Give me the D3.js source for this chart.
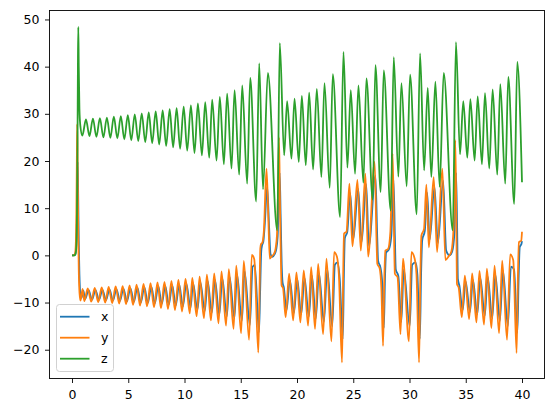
<!DOCTYPE html>
<html>
<head>
<meta charset="utf-8">
<script src="https://cdn.jsdelivr.net/npm/d3@7"></script>
<style>
  body { margin: 0; background: #fff; }
  text { font-family: "DejaVu Sans", sans-serif; }
</style>
</head>
<body>
<script>
// Values: [time, value] at turning points and shoulders
var xPts = [[0,0],[0.2,0.02],[0.3,0.3],[0.36,1.5],[0.41,5],[0.46,13],[0.5,19.8],[0.55,13],[0.6,3],[0.66,-4],[0.73,-7.8],[0.84,-9.0],
  [1.01,-7.5],[1.16,-9.3],[1.47,-7.4],[1.78,-9.4],[2.09,-7.35],[2.40,-9.45],[2.71,-7.3],[3.02,-9.5],[3.33,-7.2],[3.64,-9.6],
  [3.95,-7.15],[4.26,-9.65],[4.57,-7.05],[4.88,-9.75],[5.19,-6.95],[5.50,-9.85],[5.81,-6.85],[6.12,-10.0],[6.43,-6.75],[6.74,-10.1],
  [7.05,-6.65],[7.36,-10.2],[7.67,-6.55],[7.98,-10.35],[8.29,-6.45],[8.60,-10.5],[8.91,-6.3],[9.22,-10.65],[9.53,-6.15],[9.85,-10.85],
  [10.16,-6.0],[10.54,-11.1],[10.76,-5.9],[11.15,-11.55],[11.41,-5.7],[11.80,-11.85],[12.06,-5.4],[12.42,-12.2],[12.71,-5.2],[13.09,-12.6],
  [13.36,-4.9],[13.76,-12.95],[14.01,-4.55],[14.43,-13.3],[14.67,-4.05],[15.10,-13.9],[15.34,-3.35],[15.81,-14.8],[16.05,-2.45],[16.25,-2.0],
  [16.62,-16.3],[16.72,-8],[16.82,0.8],[16.90,2.2],[17.0,2.8],[17.12,6],[17.35,14.5],[17.52,6],[17.65,0.2],[17.82,-0.3],[18.0,0.2],
  [18.15,1.2],[18.28,4],[18.36,10],[18.46,17.5],[18.55,8],[18.64,-2],[18.72,-5.8],[18.83,-6.8],[19.06,-11.7],[19.37,-5.25],[19.73,-12.2],
  [20.02,-5.0],[20.37,-12.5],[20.67,-4.8],[21.05,-13.0],[21.33,-4.3],[21.67,-13.4],[21.95,-3.8],[22.39,-14.1],[22.69,-3.0],[23.13,-15.0],
  [23.37,-2.0],[23.60,-1.5],[23.80,-5],[24.07,-17.7],[24.17,-4],[24.25,3.6],[24.47,5.0],[24.73,13.2],[25.0,3.4],[25.44,14.1],[25.74,2.8],
  [26.15,15.1],[26.39,2.0],[26.97,16.9],[27.13,4],[27.21,-1.2],[27.42,-2.6],[27.58,-6],[27.72,-15.4],[27.82,-5],[27.92,0.6],[28.16,1.2],
  [28.38,4],[28.58,16.0],[28.70,4],[28.78,-3.0],[29.01,-4.4],[29.27,-14.1],[29.49,-3.0],[30.02,-15.0],[30.24,-2.0],[30.53,-1.5],[30.70,-4],
  [30.92,-17.7],[31.03,-4],[31.13,3.2],[31.36,5.2],[31.57,13.3],[31.79,3.3],[32.22,14.5],[32.52,2.6],[32.99,15.8],[33.26,1.0],[33.55,0.0],
  [33.79,0.8],[34.0,5],[34.14,17.5],[34.24,5],[34.30,-5],[34.44,-6.5],[34.72,-11.7],[34.99,-5.5],[35.37,-12.0],[35.64,-5.2],[36.02,-12.5],
  [36.29,-4.8],[36.69,-12.8],[36.95,-4.5],[37.35,-13.3],[37.63,-4.1],[38.03,-13.9],[38.31,-3.3],[38.74,-15.0],[39.02,-2.4],[39.29,-3],
  [39.59,-16.4],[39.70,-5],[39.80,1.8],[39.95,2.4],[40.0,3.0]];

var yPts = [[0,0],[0.2,0.05],[0.28,0.5],[0.34,2.5],[0.39,9],[0.43,20],[0.46,27.8],[0.5,20],[0.55,6],[0.6,-3],[0.67,-8],[0.76,-9.6],
  [0.94,-7.1],[1.09,-9.7],[1.40,-7.0],[1.71,-9.8],[2.02,-6.9],[2.33,-9.9],[2.64,-6.8],[2.95,-10.0],[3.26,-6.7],[3.57,-10.1],[3.88,-6.6],
  [4.19,-10.2],[4.50,-6.5],[4.81,-10.35],[5.12,-6.35],[5.43,-10.5],[5.74,-6.2],[6.05,-10.65],[6.36,-6.05],[6.67,-10.8],[6.98,-5.9],
  [7.29,-11.0],[7.60,-5.75],[7.91,-11.2],[8.22,-5.6],[8.53,-11.4],[8.84,-5.4],[9.15,-11.6],[9.46,-5.2],[9.78,-11.9],[10.09,-5.0],
  [10.47,-12.3],[10.69,-4.8],[11.08,-12.9],[11.34,-4.5],[11.73,-13.3],[11.99,-4.1],[12.35,-13.8],[12.64,-3.8],[13.02,-14.4],[13.29,-3.4],
  [13.69,-14.9],[13.94,-2.9],[14.36,-15.6],[14.60,-2.2],[15.03,-16.5],[15.27,-1.2],[15.74,-17.9],[15.98,0.1],[16.2,-0.8],[16.56,-20.6],
  [16.66,-9],[16.74,1.5],[16.80,2.4],[16.92,2.7],[17.05,5],[17.29,18.4],[17.45,8],[17.58,-0.7],[17.75,-0.2],[17.95,0.3],[18.10,1.5],
  [18.22,4.3],[18.30,12],[18.40,25.0],[18.48,12],[18.56,0],[18.63,-6.4],[18.76,-6.9],[18.99,-13.1],[19.30,-3.9],[19.66,-13.8],[19.95,-3.6],
  [20.30,-14.2],[20.60,-3.2],[20.98,-14.9],[21.26,-2.5],[21.60,-15.6],[21.88,-1.8],[22.32,-16.7],[22.62,-0.7],[23.06,-18.2],[23.30,0.7],
  [23.55,-0.3],[23.72,-4],[24.0,-22.7],[24.1,-5],[24.18,4.6],[24.40,5.0],[24.66,15.2],[24.93,1.9],[25.37,16.0],[25.67,1.0],[26.08,17.3],
  [26.32,-0.25],[26.90,19.8],[27.06,4],[27.14,-1.8],[27.35,-2.8],[27.50,-7],[27.65,-19.2],[27.75,-6],[27.85,1.0],[28.09,1.3],[28.30,5],
  [28.50,21.6],[28.62,5],[28.70,-3.9],[28.94,-4.6],[29.20,-16.7],[29.42,-0.7],[29.95,-18.2],[30.17,0.7],[30.46,-0.7],[30.62,-4],
  [30.85,-22.7],[30.96,-5],[31.06,4.2],[31.29,5.6],[31.50,15.0],[31.72,1.7],[32.15,16.6],[32.45,0.7],[32.92,18.4],[33.19,-1.0],
  [33.48,-0.2],[33.72,0.8],[33.92,6],[34.07,24.4],[34.16,8],[34.22,-6.1],[34.37,-6.8],[34.65,-13.1],[34.92,-4.3],[35.30,-13.5],
  [35.57,-3.8],[35.95,-14.2],[36.22,-3.3],[36.62,-14.7],[36.88,-2.8],[37.28,-15.4],[37.56,-2.2],[37.96,-16.5],[38.24,-1.1],[38.67,-17.9],
  [38.95,0.2],[39.22,-1],[39.52,-20.7],[39.63,-5],[39.73,2.8],[39.93,3.1],[40.0,5.0]];

var zPts = [[0,0],[0.2,0.0],[0.3,0.2],[0.38,1.5],[0.44,8],[0.49,24],[0.53,42],[0.56,48.4],[0.6,40],[0.66,31],[0.74,27.5],[0.92,25.4],
  [1.24,28.8],[1.55,25.3],[1.86,29.0],[2.17,25.1],[2.48,29.1],[2.79,25.0],[3.10,29.2],[3.41,24.9],[3.72,29.4],[4.03,24.8],[4.34,29.5],
  [4.65,24.6],[4.96,29.7],[5.27,24.4],[5.58,29.9],[5.89,24.2],[6.20,30.1],[6.51,24.0],[6.82,30.3],[7.13,23.8],[7.44,30.5],[7.75,23.5],
  [8.06,30.7],[8.37,23.2],[8.68,31.0],[8.99,22.9],[9.30,31.2],[9.61,22.6],[9.93,31.5],[10.24,22.2],[10.57,31.8],[10.89,21.7],[11.19,32.2],
  [11.55,21.2],[11.84,32.5],[12.20,20.7],[12.46,33.0],[12.85,20.1],[13.14,33.6],[13.50,19.3],[13.79,34.3],[14.18,18.4],[14.45,35.0],
  [14.86,17.1],[15.13,36.0],[15.57,15.2],[15.84,37.6],[16.37,11.4],[16.64,40.7],[16.98,14.0],[17.41,38.7],[18.24,5.3],[18.47,45.0],
  [18.86,21.2],[19.12,32.7],[19.51,20.5],[19.78,33.2],[20.16,19.8],[20.43,33.8],[20.78,19.1],[21.08,34.5],[21.43,18.2],[21.76,35.3],
  [22.17,16.6],[22.44,36.5],[22.91,14.3],[23.18,38.4],[23.83,8.1],[24.13,43.1],[24.48,18.6],[24.78,35.0],[25.16,17.3],[25.46,36.0],
  [25.90,15.4],[26.17,37.5],[26.73,11.8],[26.97,40.3],[27.44,13.4],[27.71,39.2],[28.33,9.5],[28.60,42.0],[29.01,16.7],[29.28,36.5],
  [29.75,14.6],[30.05,38.3],[30.64,8.7],[30.94,42.8],[31.30,18.0],[31.62,35.5],[31.94,16.6],[32.30,36.8],[32.68,14.5],[33.04,38.7],
  [33.84,5.3],[34.13,45.2],[34.49,21.4],[34.78,32.7],[35.14,20.7],[35.41,33.1],[35.79,20.1],[36.06,33.7],[36.44,19.3],[36.71,34.4],
  [37.09,18.4],[37.39,35.2],[37.80,17.1],[38.07,36.3],[38.51,15.2],[38.78,37.8],[39.31,10.9],[39.58,41.0],[40.0,15.5]];

var names = ["x", "y", "z"];
var colors = ["#1f77b4", "#ff7f0e", "#2ca02c"];
var xTicks = [0, 5, 10, 15, 20, 25, 30, 35, 40];
var yTicks = [-20, -10, 0, 10, 20, 30, 40, 50];

var width = 554;
var height = 413;
var plot = { left: 49.5, right: 544.5, top: 10.5, bottom: 378.5 };

var svg = d3.select("body")
  .append("svg")
  .attr("width", width)
  .attr("height", height);

var xScale = d3.scaleLinear().domain([-2, 42]).range([plot.left, plot.right]);
var yScale = d3.scaleLinear().domain([-26.1, 51.9]).range([plot.bottom, plot.top]);

svg.append("clipPath")
  .attr("id", "plot-area")
  .append("rect")
  .attr("x", plot.left)
  .attr("y", plot.top)
  .attr("width", plot.right - plot.left)
  .attr("height", plot.bottom - plot.top);

var line = d3.line()
  .x(function(d) { return xScale(d[0]); })
  .y(function(d) { return yScale(d[1]); })
  .curve(d3.curveMonotoneX);

var lines = svg.append("g").attr("clip-path", "url(#plot-area)");
[xPts, yPts, zPts].forEach(function(pts, i) {
  lines.append("path")
    .datum(pts)
    .attr("d", line)
    .attr("fill", "none")
    .attr("stroke", colors[i])
    .attr("stroke-width", 1.8)
    .attr("stroke-linejoin", "round");
});

// axes
var xAxis = d3.axisBottom(xScale).tickValues(xTicks).tickFormat(d3.format("d"))
  .tickSize(4.5).tickPadding(7).tickSizeOuter(0);
var yAxis = d3.axisLeft(yScale).tickValues(yTicks).tickFormat(d3.format("d"))
  .tickSize(4.5).tickPadding(5.5).tickSizeOuter(0);

var gx = svg.append("g").attr("transform", "translate(0," + plot.bottom + ")").call(xAxis);
var gy = svg.append("g").attr("transform", "translate(" + plot.left + ",0)").call(yAxis);
[gx, gy].forEach(function(g) {
  g.select(".domain").remove();
  g.selectAll(".tick line").attr("stroke", "#000").attr("stroke-width", 0.9);
  g.selectAll(".tick text")
    .attr("fill", "#000")
    .style("font-family", "'DejaVu Sans', sans-serif")
    .style("font-size", "12.5px");
});

svg.append("rect")
  .attr("x", plot.left)
  .attr("y", plot.top)
  .attr("width", plot.right - plot.left)
  .attr("height", plot.bottom - plot.top)
  .attr("fill", "none")
  .attr("stroke", "#000")
  .attr("stroke-width", 0.9);

// legend
var legend = svg.append("g");
legend.append("rect")
  .attr("x", 56.5).attr("y", 304.5)
  .attr("width", 57).attr("height", 67)
  .attr("rx", 3)
  .attr("fill", "#fff").attr("fill-opacity", 0.8)
  .attr("stroke", "#cccccc").attr("stroke-width", 0.9);

names.forEach(function(name, i) {
  var yy = 316.7 + i * 21;
  legend.append("line")
    .attr("x1", 60).attr("x2", 89.5)
    .attr("y1", yy).attr("y2", yy)
    .attr("stroke", colors[i]).attr("stroke-width", 1.8);
  legend.append("text")
    .attr("x", 101).attr("y", yy)
    .attr("dy", "0.35em")
    .style("font-size", "12.5px")
    .attr("fill", "#000")
    .text(name);
});
</script>
</body>
</html>
